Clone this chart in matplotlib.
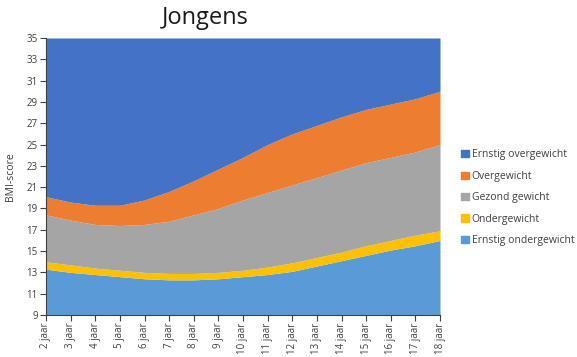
import matplotlib
matplotlib.use("Agg")
import matplotlib.pyplot as plt
import numpy as np
from matplotlib.patches import Patch

plt.rcParams['font.family'] = ['Open Sans', 'DejaVu Sans']

# Ages and upper limits (BMI) of each category
ages = list(range(2, 19))
labels = [f"{a} jaar" for a in ages]
ernstig_onder_top = [13.3, 13.0, 12.8, 12.6, 12.4, 12.3, 12.3, 12.4, 12.6, 12.8, 13.1, 13.6, 14.1, 14.6, 15.1, 15.5, 16.0]
onder_top = [14.0, 13.7, 13.4, 13.2, 13.0, 12.9, 12.9, 13.0, 13.2, 13.5, 13.9, 14.4, 14.9, 15.5, 16.0, 16.5, 16.9]
gezond_top = [18.4, 17.9, 17.5, 17.4, 17.5, 17.8, 18.4, 19.0, 19.8, 20.5, 21.2, 21.9, 22.6, 23.3, 23.8, 24.3, 25.0]
over_top = [20.1, 19.6, 19.3, 19.3, 19.8, 20.6, 21.6, 22.7, 23.8, 25.0, 26.0, 26.8, 27.6, 28.3, 28.8, 29.3, 30.0]
ernstig_over_top = [35] * len(ages)

series = ["Ernstig ondergewicht", "Ondergewicht", "Gezond gewicht", "Overgewicht", "Ernstig overgewicht"]
colors = ["#5B9BD5", "#FFC000", "#A5A5A5", "#ED7D31", "#4472C4"]

tops = np.array([ernstig_onder_top, onder_top, gezond_top, over_top, ernstig_over_top])
bottoms = np.vstack([np.full(len(ages), 9.0), tops[:-1]])

fig = plt.figure(figsize=(5.77, 3.57), dpi=100)
ax = fig.add_axes([46/577, 1 - 315/357, (440 - 46)/577, (315 - 38)/357])

x = np.arange(len(ages))
for lo, hi, c in zip(bottoms, tops, colors):
    ax.fill_between(x, lo, hi, color=c, linewidth=0)

ax.set_xlim(0, len(ages) - 1)
ax.set_ylim(9, 35)
ax.set_yticks(range(9, 36, 2))
ax.set_xticks(x)
ax.set_xticklabels(labels, rotation=90, fontsize=7, color="#404040")
ax.tick_params(axis='y', labelsize=7, labelcolor="#404040", length=4, color="#404040", pad=2)
ax.tick_params(axis='x', length=4, color="#404040", pad=1.5)
for s in ["top", "right"]:
    ax.spines[s].set_visible(False)
for s in ["left", "bottom"]:
    ax.spines[s].set_color("#404040")
ax.set_ylabel("BMI-score", fontsize=7.5, color="#404040")
ax.yaxis.set_label_coords(-0.075, 0.5)

fig.text(205/577, 1 - 18/357, "Jongens", fontsize=17, ha="center", va="center", color="#1a1a1a")

handles = [Patch(color=c, label=s) for s, c in zip(series, colors)][::-1]
fig.legend(handles=handles, loc="upper left", bbox_to_anchor=(452/577, 1 - 140/357),
           frameon=False, fontsize=7.5, handlelength=0.7, handleheight=0.7,
           handletextpad=0.3, labelspacing=1.0, labelcolor="#404040")

fig.savefig("out.png", dpi=100)
